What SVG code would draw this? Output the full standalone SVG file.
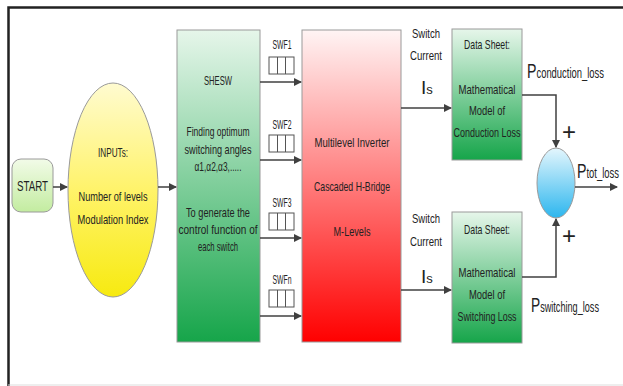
<svg xmlns="http://www.w3.org/2000/svg" width="623" height="386" viewBox="0 0 623 386">
<defs>
<linearGradient id="gStart" x1="0" y1="0" x2="0" y2="1"><stop offset="0" stop-color="#f2fbe8"/><stop offset="1" stop-color="#c3eca0"/></linearGradient>
<linearGradient id="gYel" x1="0" y1="0" x2="0" y2="1"><stop offset="0" stop-color="#fffbd0"/><stop offset="0.5" stop-color="#fff36a"/><stop offset="1" stop-color="#f7ea10"/></linearGradient>
<linearGradient id="gGreen" x1="0" y1="0" x2="0" y2="1"><stop offset="0" stop-color="#e6f6ea"/><stop offset="1" stop-color="#16a54a"/></linearGradient>
<linearGradient id="gRed" x1="0" y1="0" x2="0" y2="1"><stop offset="0" stop-color="#fff4f4"/><stop offset="1" stop-color="#ff0000"/></linearGradient>
<linearGradient id="gBlue" x1="0" y1="0" x2="0" y2="1"><stop offset="0" stop-color="#e4f6fd"/><stop offset="1" stop-color="#2cb6ee"/></linearGradient>
<marker id="arr" markerWidth="8" markerHeight="8" refX="7" refY="4" orient="auto" markerUnits="userSpaceOnUse"><path d="M0,0 L8,4 L0,8 Z" fill="#404040"/></marker>
</defs>
<style>
text{font-family:"Liberation Sans",Arial,sans-serif;fill:#222;text-anchor:middle;font-size:13px}
.box{stroke:#9a9a9a;stroke-width:1}
.ln{fill:none;stroke:#404040;stroke-width:1.5}
.big{font-size:21px;text-anchor:start}
.sub{font-size:14px}
.is{font-size:19px;text-anchor:start}
.iss{font-size:13px}
.plus{font-size:24px;text-anchor:middle}
.cell{fill:#fff;stroke:#555;stroke-width:1}
</style>
<rect x="0" y="0" width="623" height="386" fill="#fff"/>
<path d="M8.5,386 V7.5 H623" fill="none" stroke="#222" stroke-width="2.5"/>
<line x1="8" y1="385" x2="623" y2="385" stroke="#ddd" stroke-width="1"/>

<g id="start"><rect class="box" x="12" y="159" width="41" height="53" rx="9" fill="url(#gStart)"/><text x="32.5" y="191" style="font-size:14px" textLength="31" lengthAdjust="spacingAndGlyphs">START</text></g>
<g id="inputs"><ellipse class="box" cx="113" cy="190" rx="45" ry="107" fill="url(#gYel)"/>
<text x="113" y="157" textLength="30" lengthAdjust="spacingAndGlyphs">INPUTs:</text>
<text x="113" y="201" textLength="69" lengthAdjust="spacingAndGlyphs">Number of levels</text>
<text x="113" y="224" textLength="71" lengthAdjust="spacingAndGlyphs">Modulation Index</text></g>
<g id="shesw"><rect class="box" x="177" y="30" width="83" height="312" fill="url(#gGreen)"/>
<text x="218" y="85" textLength="28" lengthAdjust="spacingAndGlyphs">SHESW</text>
<text x="218" y="136" textLength="63" lengthAdjust="spacingAndGlyphs">Finding optimum</text>
<text x="218" y="154" textLength="67" lengthAdjust="spacingAndGlyphs">switching angles</text>
<text x="218" y="171" textLength="47" lengthAdjust="spacingAndGlyphs">α1,α2,α3,.....</text>
<text x="218" y="217" textLength="64" lengthAdjust="spacingAndGlyphs">To generate the</text>
<text x="218" y="234" textLength="79" lengthAdjust="spacingAndGlyphs">control function of</text>
<text x="218" y="251" textLength="40" lengthAdjust="spacingAndGlyphs">each switch</text></g>
<g id="inverter"><rect class="box" x="302" y="30" width="99" height="312" fill="url(#gRed)"/>
<text x="352" y="147" textLength="75" lengthAdjust="spacingAndGlyphs">Multilevel Inverter</text>
<text x="352" y="191" textLength="76" lengthAdjust="spacingAndGlyphs">Cascaded H-Bridge</text>
<text x="352" y="236" textLength="37" lengthAdjust="spacingAndGlyphs">M-Levels</text></g>
<g id="conduction"><rect class="box" x="452" y="29" width="70" height="131" fill="url(#gGreen)"/>
<text x="487" y="49" textLength="46" lengthAdjust="spacingAndGlyphs">Data Sheet:</text>
<text x="487" y="94" textLength="57" lengthAdjust="spacingAndGlyphs">Mathematical</text>
<text x="487" y="115" textLength="36" lengthAdjust="spacingAndGlyphs">Model of</text>
<text x="487" y="137" textLength="67" lengthAdjust="spacingAndGlyphs">Conduction Loss</text></g>
<g id="switching"><rect class="box" x="452" y="212" width="70" height="131" fill="url(#gGreen)"/>
<text x="487" y="234" textLength="46" lengthAdjust="spacingAndGlyphs">Data Sheet:</text>
<text x="487" y="277" textLength="57" lengthAdjust="spacingAndGlyphs">Mathematical</text>
<text x="487" y="299" textLength="36" lengthAdjust="spacingAndGlyphs">Model of</text>
<text x="487" y="321" textLength="59" lengthAdjust="spacingAndGlyphs">Switching Loss</text></g>
<g id="sum"><ellipse class="box" cx="556" cy="183" rx="19" ry="35" fill="url(#gBlue)"/></g>

<g id="swf">
<text x="282" y="49" textLength="19" lengthAdjust="spacingAndGlyphs">SWF1</text><rect class="cell" x="269" y="57" width="25" height="17"/><path d="M277.5,57V74M285.5,57V74" stroke="#555"/>
<text x="282" y="129" textLength="19" lengthAdjust="spacingAndGlyphs">SWF2</text><rect class="cell" x="269" y="135" width="25" height="17"/><path d="M277.5,135V152M285.5,135V152" stroke="#555"/>
<text x="282" y="207" textLength="19" lengthAdjust="spacingAndGlyphs">SWF3</text><rect class="cell" x="269" y="213" width="25" height="17"/><path d="M277.5,213V230M285.5,213V230" stroke="#555"/>
<text x="282" y="284" textLength="19" lengthAdjust="spacingAndGlyphs">SWFn</text><rect class="cell" x="269" y="290" width="25" height="17"/><path d="M277.5,290V307M285.5,290V307" stroke="#555"/>
</g>

<g id="connectors">
<line class="ln" x1="53" y1="187" x2="67" y2="187" marker-end="url(#arr)"/>
<line class="ln" x1="158" y1="187" x2="176" y2="187" marker-end="url(#arr)"/>
<line class="ln" x1="260" y1="82" x2="301" y2="82" marker-end="url(#arr)"/>
<line class="ln" x1="260" y1="160" x2="301" y2="160" marker-end="url(#arr)"/>
<line class="ln" x1="260" y1="238" x2="301" y2="238" marker-end="url(#arr)"/>
<line class="ln" x1="260" y1="316" x2="301" y2="316" marker-end="url(#arr)"/>
<line class="ln" x1="401" y1="108" x2="451" y2="108" marker-end="url(#arr)"/>
<line class="ln" x1="401" y1="290" x2="451" y2="290" marker-end="url(#arr)"/>
<polyline class="ln" points="522,95 556,95 556,147" marker-end="url(#arr)"/>
<polyline class="ln" points="522,277 556,277 556,219" marker-end="url(#arr)"/>
<line class="ln" x1="575" y1="187" x2="617" y2="187" marker-end="url(#arr)"/>
</g>

<g id="labels">
<text x="426" y="38" textLength="28" lengthAdjust="spacingAndGlyphs">Switch</text>
<text x="426" y="60" textLength="32" lengthAdjust="spacingAndGlyphs">Current</text>
<text x="421" y="94" class="is">I<tspan class="iss">s</tspan></text>
<text x="426" y="223" textLength="28" lengthAdjust="spacingAndGlyphs">Switch</text>
<text x="426" y="246" textLength="32" lengthAdjust="spacingAndGlyphs">Current</text>
<text x="421" y="283" class="is">I<tspan class="iss">s</tspan></text>
<text x="527" y="78" class="big" textLength="77" lengthAdjust="spacingAndGlyphs">P<tspan class="sub">conduction_loss</tspan></text>
<text x="531" y="312" class="big" textLength="68" lengthAdjust="spacingAndGlyphs">P<tspan class="sub">switching_loss</tspan></text>
<text x="577" y="178" class="big" textLength="42" lengthAdjust="spacingAndGlyphs">P<tspan class="sub">tot_loss</tspan></text>
<text x="569" y="140" class="plus">+</text>
<text x="569" y="244" class="plus">+</text>
</g>
</svg>
